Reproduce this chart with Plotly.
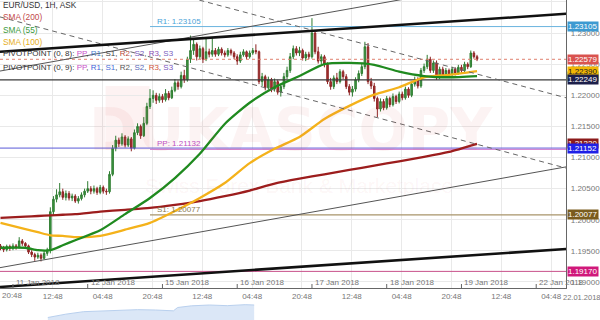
import plotly.graph_objects as go

W, H = 600, 320
FONT = "Liberation Sans, Arial, sans-serif"

# ---------------- data ----------------
hours = list(range(-4, 150))  # trading-hour index, 0 = 11 Jan 2018 00:00 (weekend removed)

opens = [
    1.1958, 1.1955, 1.1952, 1.1957,
    1.1954, 1.1958, 1.1956, 1.1966, 1.1962, 1.1958, 1.1948, 1.1944, 1.1940, 1.1943, 1.1938, 1.1946,
    1.1951, 1.2013, 1.2033, 1.2040, 1.2045, 1.2036, 1.2042, 1.2035, 1.2038, 1.2030, 1.2034, 1.2040,
    1.2046, 1.2050, 1.2046, 1.2050, 1.2044, 1.2052, 1.2046, 1.2045, 1.2073, 1.2115, 1.2128, 1.2122,
    1.2133, 1.2120, 1.2130, 1.2115, 1.2140, 1.2150, 1.2135, 1.2155, 1.2182, 1.2195, 1.2200, 1.2192,
    1.2198, 1.2193, 1.2203, 1.2196, 1.2208, 1.2220, 1.2214, 1.2232, 1.2225, 1.2258, 1.2272, 1.2282,
    1.2262, 1.2275, 1.2258, 1.2270, 1.2266, 1.2272, 1.2266, 1.2274, 1.2268, 1.2265, 1.2272, 1.2268,
    1.2262, 1.2255, 1.2265, 1.2270, 1.2262, 1.2268, 1.2272, 1.2270, 1.2222, 1.2230, 1.2212, 1.2225,
    1.2210, 1.2222, 1.2205, 1.2214, 1.2230, 1.2240, 1.2262, 1.2275, 1.2268, 1.2272, 1.2260, 1.2266,
    1.2262, 1.2300, 1.2270, 1.2255, 1.2262, 1.2250, 1.2222, 1.2214, 1.2228, 1.2222, 1.2238, 1.2230,
    1.2214, 1.2205, 1.2210, 1.2225, 1.2235, 1.2246, 1.2278, 1.2222, 1.2215, 1.2195, 1.2178, 1.2190,
    1.2180, 1.2195, 1.2185, 1.2198, 1.2190, 1.2202, 1.2196, 1.2210, 1.2200, 1.2218, 1.2225, 1.2215,
    1.2240, 1.2246, 1.2258, 1.2240, 1.2252, 1.2230, 1.2242, 1.2232, 1.2240, 1.2234, 1.2242, 1.2236,
    1.2245, 1.2240, 1.2250, 1.2246, 1.2268, 1.2262,
]
highs = [
    1.1961, 1.1958, 1.1960, 1.1960,
    1.1962, 1.1961, 1.1972, 1.1969, 1.1964, 1.1960, 1.1951, 1.1947, 1.1947, 1.1946, 1.1950, 1.1955,
    1.2020, 1.2038, 1.2049, 1.2059, 1.2050, 1.2047, 1.2046, 1.2042, 1.2041, 1.2038, 1.2044, 1.2050,
    1.2062, 1.2054, 1.2055, 1.2053, 1.2056, 1.2055, 1.2050, 1.2078, 1.2120, 1.2135, 1.2132, 1.2139,
    1.2136, 1.2134, 1.2133, 1.2145, 1.2155, 1.2153, 1.2165, 1.2188, 1.2210, 1.2208, 1.2204, 1.2203,
    1.2202, 1.2210, 1.2207, 1.2214, 1.2226, 1.2224, 1.2238, 1.2241, 1.2262, 1.2296, 1.2289, 1.2285,
    1.2280, 1.2278, 1.2292, 1.2275, 1.2292, 1.2276, 1.2278, 1.2277, 1.2272, 1.2276, 1.2275, 1.2271,
    1.2266, 1.2270, 1.2274, 1.2272, 1.2272, 1.2276, 1.2282, 1.2272, 1.2236, 1.2233, 1.2230, 1.2228,
    1.2227, 1.2225, 1.2218, 1.2236, 1.2246, 1.2268, 1.2280, 1.2279, 1.2278, 1.2275, 1.2270, 1.2270,
    1.2324, 1.2303, 1.2278, 1.2266, 1.2265, 1.2253, 1.2228, 1.2232, 1.2236, 1.2242, 1.2241, 1.2234,
    1.2218, 1.2215, 1.2229, 1.2240, 1.2251, 1.2286, 1.2284, 1.2228, 1.2220, 1.2198, 1.2195, 1.2194,
    1.2199, 1.2198, 1.2203, 1.2201, 1.2206, 1.2206, 1.2214, 1.2213, 1.2222, 1.2230, 1.2229, 1.2244,
    1.2251, 1.2265, 1.2262, 1.2256, 1.2256, 1.2246, 1.2246, 1.2244, 1.2243, 1.2246, 1.2245, 1.2249,
    1.2249, 1.2254, 1.2253, 1.2272, 1.2271, 1.2265,
]
lows = [
    1.1951, 1.1948, 1.1949, 1.1950,
    1.1951, 1.1952, 1.1954, 1.1958, 1.1954, 1.1945, 1.1940, 1.1934, 1.1937, 1.1933, 1.1936, 1.1942,
    1.1946, 1.2008, 1.2028, 1.2036, 1.2032, 1.2031, 1.2031, 1.2030, 1.2027, 1.2026, 1.2031, 1.2036,
    1.2043, 1.2041, 1.2042, 1.2040, 1.2041, 1.2042, 1.2040, 1.2042, 1.2070, 1.2110, 1.2117, 1.2119,
    1.2116, 1.2117, 1.2110, 1.2113, 1.2136, 1.2130, 1.2133, 1.2152, 1.2178, 1.2188, 1.2186, 1.2188,
    1.2188, 1.2190, 1.2192, 1.2194, 1.2205, 1.2209, 1.2211, 1.2220, 1.2222, 1.2252, 1.2265, 1.2256,
    1.2258, 1.2252, 1.2255, 1.2261, 1.2262, 1.2262, 1.2263, 1.2264, 1.2261, 1.2262, 1.2264, 1.2258,
    1.2249, 1.2252, 1.2262, 1.2258, 1.2259, 1.2265, 1.2266, 1.2218, 1.2215, 1.2208, 1.2209, 1.2205,
    1.2206, 1.2201, 1.2198, 1.2210, 1.2226, 1.2236, 1.2258, 1.2264, 1.2263, 1.2256, 1.2255, 1.2258,
    1.2259, 1.2266, 1.2251, 1.2250, 1.2245, 1.2218, 1.2209, 1.2210, 1.2218, 1.2219, 1.2226, 1.2210,
    1.2200, 1.2198, 1.2206, 1.2221, 1.2231, 1.2242, 1.2218, 1.2210, 1.2190, 1.2165, 1.2174, 1.2176,
    1.2177, 1.2181, 1.2182, 1.2186, 1.2187, 1.2192, 1.2193, 1.2196, 1.2197, 1.2214, 1.2211, 1.2212,
    1.2236, 1.2242, 1.2236, 1.2236, 1.2225, 1.2226, 1.2228, 1.2229, 1.2230, 1.2231, 1.2232, 1.2233,
    1.2236, 1.2237, 1.2242, 1.2244, 1.2259, 1.2255,
]
closes = [
    1.1955, 1.1952, 1.1957, 1.1954,
    1.1958, 1.1956, 1.1966, 1.1962, 1.1958, 1.1948, 1.1944, 1.1940, 1.1943, 1.1938, 1.1946, 1.1951,
    1.2013, 1.2033, 1.2040, 1.2045, 1.2036, 1.2042, 1.2035, 1.2038, 1.2030, 1.2034, 1.2040, 1.2046,
    1.2050, 1.2046, 1.2050, 1.2044, 1.2052, 1.2046, 1.2045, 1.2073, 1.2115, 1.2128, 1.2122, 1.2133,
    1.2120, 1.2130, 1.2115, 1.2140, 1.2150, 1.2135, 1.2155, 1.2182, 1.2195, 1.2200, 1.2192, 1.2198,
    1.2193, 1.2203, 1.2196, 1.2208, 1.2220, 1.2214, 1.2232, 1.2225, 1.2258, 1.2272, 1.2282, 1.2262,
    1.2275, 1.2258, 1.2270, 1.2266, 1.2272, 1.2266, 1.2274, 1.2268, 1.2265, 1.2272, 1.2268, 1.2262,
    1.2255, 1.2265, 1.2270, 1.2262, 1.2268, 1.2272, 1.2270, 1.2222, 1.2230, 1.2212, 1.2225, 1.2210,
    1.2222, 1.2205, 1.2214, 1.2230, 1.2240, 1.2262, 1.2275, 1.2268, 1.2272, 1.2260, 1.2266, 1.2262,
    1.2300, 1.2270, 1.2255, 1.2262, 1.2250, 1.2222, 1.2214, 1.2228, 1.2222, 1.2238, 1.2230, 1.2214,
    1.2205, 1.2210, 1.2225, 1.2235, 1.2246, 1.2278, 1.2222, 1.2215, 1.2195, 1.2178, 1.2190, 1.2180,
    1.2195, 1.2185, 1.2198, 1.2190, 1.2202, 1.2196, 1.2210, 1.2200, 1.2218, 1.2225, 1.2215, 1.2240,
    1.2246, 1.2258, 1.2240, 1.2252, 1.2230, 1.2242, 1.2232, 1.2240, 1.2234, 1.2242, 1.2236, 1.2245,
    1.2240, 1.2250, 1.2246, 1.2268, 1.2262, 1.2258,
]

sma_hours = [-4, 4, 8, 12, 16, 20, 28, 36, 44, 52, 60, 68, 76, 84, 92, 100, 108, 116, 124, 132, 140, 149]
sma55 = [1.1955, 1.1955, 1.1951, 1.1951, 1.1959, 1.1967, 1.1983, 1.2009, 1.2035, 1.2067, 1.2106,
         1.2154, 1.2188, 1.2213, 1.2231, 1.2250, 1.2252, 1.2249, 1.2238, 1.2231, 1.2229, 1.2231]
sma100 = [1.1995, 1.1985, 1.1980, 1.1975, 1.1974, 1.1972, 1.1974, 1.1984, 1.1995, 1.2014, 1.2035,
          1.2059, 1.2091, 1.2114, 1.2133, 1.2162, 1.2183, 1.2201, 1.2213, 1.2229, 1.2233, 1.2239]
sma200 = [1.2003, 1.2005, 1.2006, 1.2007, 1.2008, 1.2009, 1.2013, 1.2016, 1.2019, 1.2024, 1.2030,
          1.2038, 1.2047, 1.2058, 1.2066, 1.2073, 1.2080, 1.2087, 1.2094, 1.2101, 1.2109, 1.2122]

# drawn trend lines: (hour, price) end points
edge_hours = [-4.16, 177.6]
thick_upper = [1.2270, 1.2331]
thick_lower = [1.1892, 1.1953]
channel_lower = [1.1923, 1.2085]
channel_upper = [1.2239, 1.2401]
dash_lower = [1.2326, 1.2083]
dash_upper_hours = [59.84, 177.6]
dash_upper = [1.2353, 1.2196]

# horizontal levels
pivot_start = 44
r1_level, pp_level, s1_level = 1.23105, 1.21132, 1.20077
last_price = 1.22579
level_dark = 1.22249
level_blue = 1.21152
level_low = 1.19170

# axis labels
price_ticks = [1.190, 1.195, 1.200, 1.205, 1.210, 1.215, 1.220, 1.225, 1.230, 1.235]
time_tick_hours = [12.8, 28.8, 44.8, 60.8, 76.8, 92.8, 108.8, 124.8, 140.8, 156.8, 172.8]
time_tick_text = ["12:48", "04:48", "20:48", "12:48", "04:48", "20:48", "12:48", "04:48", "20:48", "12:48", "04:48"]
date_hours = [0, 24, 48, 72, 96, 120, 144, 168]
date_text = ["11 Jan 2018", "12 Jan 2018", "15 Jan 2018", "16 Jan 2018", "17 Jan 2018",
             "18 Jan 2018", "19 Jan 2018", "22 Jan 2018"]

# navigator (overview strip)
nav_pos = [8, 11, 14, 17, 20, 23, 26, 29, 29.7, 32, 35, 38, 41, 42.5]
nav_val = [0.15, 0.35, 0.50, 0.55, 0.60, 0.62, 0.60, 0.55, 0.75, 0.85, 0.90, 0.86, 0.92, 0.90]

# ---------------- figure ----------------
X_MIN, X_MAX = -4.16, 177.6
Y_MIN, Y_MAX = 1.18903, 1.23532

fig = go.Figure()

def hline(x0, x1, yv, color, width=1, dash="solid"):
    fig.add_trace(go.Scatter(x=[x0, x1], y=[yv, yv], mode="lines",
                             line=dict(color=color, width=width, dash=dash),
                             hoverinfo="skip", showlegend=False))

hline(X_MIN, X_MAX, level_dark, "#3a3a3a", 1.2)
hline(X_MIN, X_MAX, last_price, "#e0806e", 1, "dot")
hline(pivot_start, X_MAX, r1_level, "#6ab4de", 1)
hline(X_MIN, X_MAX, level_blue, "#5a5ad8", 1)
hline(pivot_start, X_MAX, pp_level, "#d48ad4", 1.2)
hline(pivot_start, X_MAX, s1_level, "#a8946a", 1.2)
hline(X_MIN, X_MAX, level_low, "#c8508a", 1)

fig.add_trace(go.Candlestick(
    x=hours, open=opens, high=highs, low=lows, close=closes,
    increasing=dict(line=dict(color="#2f7d32", width=1), fillcolor="#3f9a42"),
    decreasing=dict(line=dict(color="#8e2424", width=1), fillcolor="#a83434"),
    whiskerwidth=0, hoverinfo="skip", showlegend=False))

for vals, col in [(sma200, "#9c1d1d"), (sma100, "#f4b21a"), (sma55, "#1f8a1f")]:
    fig.add_trace(go.Scatter(x=sma_hours, y=vals, mode="lines", line=dict(color=col, width=2.3, shape="spline", smoothing=0.6),
                             hoverinfo="skip", showlegend=False))

def tline(xs, ys, color, width, dash="solid"):
    fig.add_trace(go.Scatter(x=xs, y=ys, mode="lines", line=dict(color=color, width=width, dash=dash),
                             hoverinfo="skip", showlegend=False))

tline(edge_hours, channel_lower, "#555555", 1)
tline(edge_hours, channel_upper, "#555555", 1)
tline(edge_hours, dash_lower, "#666666", 1, "5px,4px")
tline(dash_upper_hours, dash_upper, "#666666", 1, "5px,4px")
tline(edge_hours, thick_upper, "#111111", 2.6)
tline(edge_hours, thick_lower, "#111111", 2.6)

# navigator
fig.add_trace(go.Scatter(x=nav_pos, y=nav_val, mode="lines", fill="tozeroy",
                         line=dict(color="#b9d0ee", width=1), fillcolor="rgba(190,212,240,0.55)",
                         xaxis="x2", yaxis="y2", hoverinfo="skip", showlegend=False))

PLOT_R = 568 / W
fig.update_layout(
    width=W, height=H, margin=dict(l=0, r=0, t=0, b=0),
    paper_bgcolor="white", plot_bgcolor="white",
    font=dict(family=FONT, size=8, color="#777"),
    showlegend=False,
    xaxis=dict(domain=[0, PLOT_R], range=[X_MIN, X_MAX], rangeslider=dict(visible=False),
               tickvals=time_tick_hours, ticktext=time_tick_text, ticks="",
               showgrid=True, gridcolor="#e9e9e9", gridwidth=1, zeroline=False,
               showline=True, linecolor="#666", linewidth=1,
               tickfont=dict(size=8, color="#777"), anchor="y"),
    yaxis=dict(domain=[32 / H, 1], range=[Y_MIN, Y_MAX], side="right",
               tickvals=price_ticks, ticktext=[f"{v:.5f}" for v in price_ticks], ticks="",
               showgrid=True, gridcolor="#e9e9e9", zeroline=False,
               showline=True, linecolor="#666", linewidth=1,
               tickfont=dict(size=8, color="#777"), anchor="x", ticklabelstandoff=2),
    xaxis2=dict(domain=[0, 1], range=[0, 100], showgrid=False, showticklabels=False,
                zeroline=False, anchor="y2"),
    yaxis2=dict(domain=[0, 20 / H], range=[0, 1.2], showgrid=False, showticklabels=False,
                zeroline=False, anchor="x2"),
)

def px_x(x):
    return x / W

def px_y(y):
    return 1 - y / H

ann = []
# watermark
ann.append(dict(xref="paper", yref="paper", x=px_x(292), y=px_y(130), text="<b>DUKASCOPY</b>",
                showarrow=False, font=dict(size=58, color="rgba(215,70,70,0.065)", family="DejaVu Sans, sans-serif")))
ann.append(dict(xref="paper", yref="paper", x=px_x(300), y=px_y(185), text="Swiss Forex Bank & Marketplace",
                showarrow=False, font=dict(size=21, color="rgba(200,60,60,0.055)", family=FONT)))
fig.add_shape(type="rect", xref="paper", yref="paper", x0=px_x(106), x1=px_x(150), y0=px_y(150), y1=px_y(86),
              fillcolor="rgba(225,90,90,0.08)", line=dict(width=0), layer="below")

# legend text
def txt(x, y, text, color, size=8, xanchor="left"):
    ann.append(dict(xref="paper", yref="paper", x=px_x(x), y=px_y(y), text=text, showarrow=False,
                    xanchor=xanchor, yanchor="middle", font=dict(size=size, color=color, family=FONT)))

def sp(t, c):
    return f"<span style='color:{c}'>{t}</span>"

txt(1, 5, "EUR/USD, 1H, ASK", "#333", 8.3)
txt(1, 17, "SMA (200)", "#c24a4a", 8.3)
txt(1, 30, "SMA (55)", "#3a9a3a", 8.3)
txt(1, 42, "SMA (100)", "#e6ae1c", 8.3)
txt(1, 54, "PIVOTPOINT (0, 8): " + ", ".join([sp("PP", "#c94fc9"), sp("R1", "#4a7fd0"), sp("S1", "#444"),
                                             sp("R2", "#b5473a"), sp("S2", "#7a5cc0"), sp("R3", "#8b4fb5"),
                                             sp("S3", "#7a5cc0")]), "#333")
txt(1, 67, "PIVOTPOINT (0, 9): " + ", ".join([sp("PP", "#c94fc9"), sp("R1", "#3f5fd8"), sp("S1", "#4a6fd8"),
                                             sp("R2", "#555"), sp("S2", "#5a6ab8"), sp("R3", "#d2553a"),
                                             sp("S3", "#7a55c0")]), "#333")

# pivot labels on the chart
for lvl, name, col in [(r1_level, "R1", "#4aa3d8"), (pp_level, "PP", "#c050c0"), (s1_level, "S1", "#8a7a50")]:
    ann.append(dict(xref="x", yref="y", x=pivot_start + 1.5, y=lvl, text=f"{name}: {lvl:.5f}", showarrow=False,
                    xanchor="left", yanchor="bottom", yshift=-1, font=dict(size=8, color=col, family=FONT)))

# date labels inside plot
for h, t in zip(date_hours, date_text):
    ann.append(dict(xref="x", yref="paper", x=h, y=px_y(282), text=t, showarrow=False, xanchor="left",
                    yanchor="middle", xshift=1, font=dict(size=8, color="#777", family=FONT)))
    fig.add_shape(type="line", xref="x", yref="paper", x0=h, x1=h, y0=px_y(288), y1=px_y(284),
                  line=dict(color="#666", width=1))

txt(0, 295, "20:48", "#777", 8)
txt(584, 297, "22.01.2018", "#777", 7.5, "center")

# right-axis value boxes
boxes = [
    (r1_level, f"{r1_level:.5f}", "#3d9ad1", "white"),
    (last_price, f"{last_price:.5f}", "#d9534f", "white"),
    (sma55[-1], f"{sma55[-1]:.5f}", "#2e8b2e", "white"),
    (sma100[-1], f"{sma100[-1]:.5f}", "#f2b705", "#222"),
    (level_dark, f"{level_dark:.5f}", "#1c1f4a", "white"),
    (sma200[-1], f"{sma200[-1]:.5f}", "#8b1a1a", "white"),
    (level_blue, f"{level_blue:.5f}", "#1f1fe6", "white"),
    (s1_level, f"{s1_level:.5f}", "#7a5c1e", "white"),
    (level_low, f"{level_low:.5f}", "#d0187a", "white"),
]
for v, t, bg, fg in boxes:
    ann.append(dict(xref="paper", yref="y", x=569 / W, y=v, text=t, showarrow=False, xanchor="left",
                    yanchor="middle", bgcolor=bg, borderpad=0, width=30, height=9, align="left",
                    font=dict(size=8, color=fg, family=FONT)))

fig.update_layout(annotations=ann)
fig.write_html("out.html")
